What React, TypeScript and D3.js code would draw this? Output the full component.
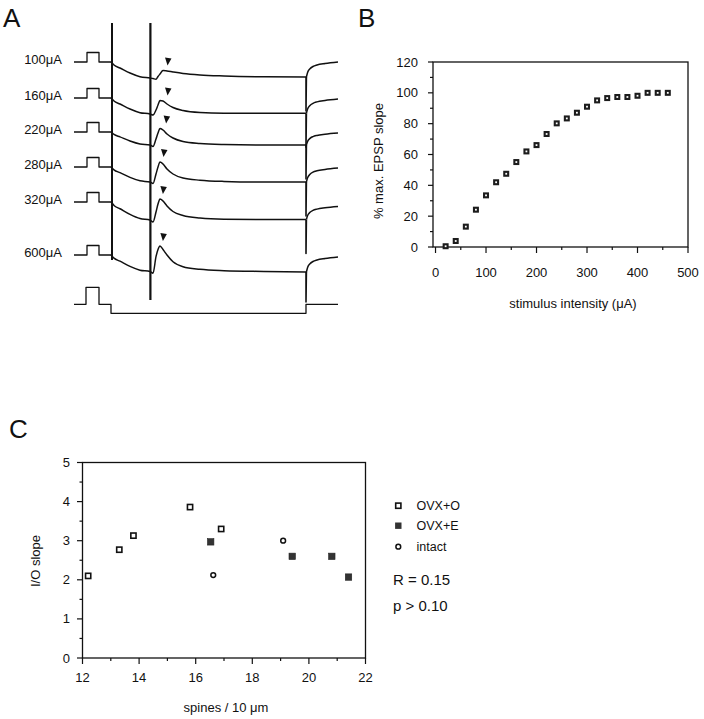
import React from "react";
import * as d3 from "d3";

// ---------- Panel A data (traces) ----------
const stimLabels = ["100μA", "160μA", "220μA", "280μA", "320μA", "600μA"];
const sagMv = [16, 16, 13, 15, 18, 16.5];
const chargeT = [18.5, 19, 20, 23, 28, 33, 38];
const chargeFrac = [0, 0.06, 0.19, 0.375, 0.69, 0.92, 1];
const epspT = [38, 39.5, 41, 42, 43, 44.5, 46.5, 49.5, 54.5, 63, 75, 95, 116];
const epspMv = [
  [0, -0.5, -1.3, 1.5, 4, 7.5, 7, 6, 4.5, 3, 2, 1.2, 1],
  [0, -1, 4, 9, 13.5, 13, 10, 6.5, 3.5, 1.5, 0.8, 0.7, 0.7],
  [0, -1.5, 6, 12, 16.5, 15, 11, 7, 3.5, 1.5, 0.5, 0, 0],
  [0, -1.5, 8, 15, 20, 18, 13, 8, 4, 1.8, 0.6, 0, 0],
  [0, -2, 8, 16, 21, 19, 14, 8.5, 4.5, 2, 0.8, 0.5, 0.5],
  [0, -1.8, 14.8, 22, 25.5, 22, 16.5, 9.8, 4.8, 2.2, 0.8, 0, -0.5],
];
const tailSpikeMv = [34, 34, 34, 34, 34, 30];
const recT = [116, 116.8, 118, 119.5, 121.5, 125.5, 132];
const recFrac = [0, 0.3, 0.55, 0.7, 0.8, 0.9, 1];
const finalMv = [0, -1, -1, -1, -4.5, -2];
const arrowT = [47, 47, 46.3, 45, 44.7, 44.7];
const pulseT = [0, 6.5, 6.5, 12.5, 12.5, 18.5];
const pulseMv = [0, 0, 9.5, 9.5, 0, 0];
const stimT = [0, 6, 6, 12.5, 12.5, 18.5, 18.5, 116, 116, 132];
const stimMv = [0, 0, 17, 17, 0, 0, -9, -9, 0, 0];

// ---------- Panel B data ----------
const intensity = [20, 40, 60, 80, 100, 120, 140, 160, 180, 200, 220, 240, 260, 280, 300, 320, 340, 360, 380, 400, 420, 440, 460];
const epspSlope = [0.5, 3.9, 13.2, 24.2, 33.5, 42, 47.5, 55.1, 62, 66.1, 73.3, 80.2, 83.4, 87.1, 91, 95.1, 96.6, 97.3, 97.3, 98.1, 100, 100, 100];
const bXTicks = [0, 100, 200, 300, 400, 500];
const bYTicks = [0, 20, 40, 60, 80, 100, 120];

// ---------- Panel C data ----------
const ovxOSpines = [12.2, 13.3, 13.8, 15.8, 16.9];
const ovxOSlope = [2.1, 2.77, 3.13, 3.86, 3.3];
const ovxESpines = [16.53, 19.41, 20.81, 21.4];
const ovxESlope = [2.97, 2.6, 2.6, 2.07];
const intactSpines = [16.62, 19.09];
const intactSlope = [2.12, 3.0];
const cXTicks = [12, 14, 16, 18, 20, 22];
const cYTicks = [0, 1, 2, 3, 4, 5];
const legendLabels = ["OVX+O", "OVX+E", "intact"];
const statLines = ["R = 0.15", "p > 0.10"];

const FONT = "'Liberation Sans', Arial, Helvetica, sans-serif";
const INK = "#111";

export default function App() {
  // Panel A scales
  const xA = d3.scaleLinear().domain([0, 132]).range([74, 338]);
  const rowY = [62, 98, 132, 167, 202, 255];
  const lineLin = d3.line<[number, number]>().x((d) => d[0]).y((d) => d[1]);
  const lineSmooth = d3
    .line<[number, number]>()
    .x((d) => d[0])
    .y((d) => d[1])
    .curve(d3.curveMonotoneX);

  const traces = stimLabels.map((lab, i) => {
    const y0 = rowY[i];
    const yv = (v: number) => y0 - v;
    const pulse: [number, number][] = pulseT.map((t, j) => [xA(t), yv(pulseMv[j])]);
    const main: [number, number][] = [];
    chargeT.forEach((t, j) => main.push([xA(t), yv(-sagMv[i] * chargeFrac[j])]));
    epspT.forEach((t, j) => {
      if (j === 0) return;
      main.push([xA(t), yv(-sagMv[i] + epspMv[i][j])]);
    });
    const endV = -sagMv[i] + epspMv[i][epspMv[i].length - 1];
    const spike: [number, number][] = [
      [xA(116), yv(endV)],
      [xA(116), yv(endV - tailSpikeMv[i])],
      [xA(116.2), yv(endV)],
    ];
    const rec: [number, number][] = recT.map((t, j) => [
      xA(t + (j === 0 ? 0.2 : 0)),
      yv(endV + (finalMv[i] - endV) * recFrac[j]),
    ]);
    const peak = Math.max(...epspMv[i]);
    const tipY = yv(-sagMv[i] + peak) - 5;
    const tipX = xA(arrowT[i]);
    return { lab, y0, pulse, main, spike, rec, tipX, tipY };
  });
  const stimBase = 304.3;
  const stimPts: [number, number][] = stimT.map((t, j) => [xA(t), stimBase - stimMv[j]]);

  // Panel B scales
  const xB = d3.scaleLinear().domain([-5, 500]).range([433, 688]);
  const yB = d3.scaleLinear().domain([0, 120]).range([247, 62]);
  const bXMinor = d3.range(50, 500, 100);
  const bYMinor = d3.range(10, 120, 20);

  // Panel C scales
  const xC = d3.scaleLinear().domain([12, 22]).range([82.5, 365.5]);
  const yC = d3.scaleLinear().domain([0, 5]).range([658, 462.5]);
  const cXMinor = d3.range(13, 22, 2);
  const cYMinor = d3.range(0.5, 5, 1);

  return (
    <div style={{ position: "absolute", left: 0, top: 0 }}>
      <svg width={704} height={719} style={{ display: "block", background: "#fff" }} fontFamily={FONT}>
        {/* Panel letters */}
        <text x={3} y={27} fontSize={26} fill={INK}>A</text>
        <text x={358} y={27} fontSize={26} fill={INK}>B</text>
        <text x={9} y={438} fontSize={26} fill={INK}>C</text>

        {/* ---- Panel A ---- */}
        <g fill="none" stroke={INK} strokeLinejoin="round">
          {traces.map((tr, i) => (
            <g key={i}>
              <path d={lineLin(tr.pulse) || ""} strokeWidth={1.3} />
              <path d={lineSmooth(tr.main) || ""} strokeWidth={1.5} />
              <path d={lineLin(tr.spike) || ""} strokeWidth={1.6} />
              <path d={lineSmooth(tr.rec) || ""} strokeWidth={1.5} />
            </g>
          ))}
          <path d={lineLin(stimPts) || ""} strokeWidth={1.3} />
          <line x1={xA(19)} x2={xA(19)} y1={23} y2={260} strokeWidth={2} />
          <line x1={xA(38.2)} x2={xA(38.2)} y1={23} y2={300} strokeWidth={2.2} />
        </g>
        {traces.map((tr, i) => (
          <g key={"l" + i}>
            <text x={62} y={tr.y0 - 3} fontSize={13} textAnchor="end" dominantBaseline="central" fill={INK}>
              {tr.lab}
            </text>
            <path
              d={`M${tr.tipX - 3},${tr.tipY - 8} L${tr.tipX + 3.5},${tr.tipY - 7} L${tr.tipX - 0.5},${tr.tipY} Z`}
              fill={INK}
            />
          </g>
        ))}

        {/* ---- Panel B ---- */}
        <g stroke={INK} fill="none">
          <rect x={433} y={62} width={688 - 433} height={247 - 62} strokeWidth={1.3} />
          {bXTicks.map((v) => (
            <line key={"bx" + v} x1={xB(v)} x2={xB(v)} y1={247} y2={253} strokeWidth={1.2} />
          ))}
          {bXMinor.map((v) => (
            <line key={"bxm" + v} x1={xB(v)} x2={xB(v)} y1={247} y2={250} strokeWidth={1.2} />
          ))}
          {bYTicks.map((v) => (
            <line key={"by" + v} x1={433} x2={428} y1={yB(v)} y2={yB(v)} strokeWidth={1.2} />
          ))}
          {bYMinor.map((v) => (
            <line key={"bym" + v} x1={433} x2={430} y1={yB(v)} y2={yB(v)} strokeWidth={1.2} />
          ))}
        </g>
        {bXTicks.map((v) => (
          <text key={"bxl" + v} x={xB(v)} y={277} fontSize={13} textAnchor="middle" fill={INK}>
            {v}
          </text>
        ))}
        {bYTicks.map((v) => (
          <text key={"byl" + v} x={418} y={yB(v) + 4.5} fontSize={13} textAnchor="end" fill={INK}>
            {v}
          </text>
        ))}
        <text x={573} y={307.5} fontSize={13} textAnchor="middle" fill={INK}>
          stimulus intensity (μA)
        </text>
        <text transform="translate(382.5,161) rotate(-90)" fontSize={13} textAnchor="middle" fill={INK}>
          % max. EPSP slope
        </text>
        {intensity.map((v, i) => (
          <g key={"bp" + i}>
            <rect x={xB(v) - 3} y={yB(epspSlope[i]) - 3} width={6} height={6} fill="#1c1c1c" />
            <rect x={xB(v) - 0.9} y={yB(epspSlope[i]) - 0.9} width={1.8} height={1.8} fill="#fff" />
          </g>
        ))}

        {/* ---- Panel C ---- */}
        <g stroke={INK} fill="none">
          <rect x={82.5} y={462.5} width={365.5 - 82.5} height={658 - 462.5} strokeWidth={1.3} />
          {cXTicks.map((v) => (
            <line key={"cx" + v} x1={xC(v)} x2={xC(v)} y1={658} y2={664} strokeWidth={1.2} />
          ))}
          {cXMinor.map((v) => (
            <line key={"cxm" + v} x1={xC(v)} x2={xC(v)} y1={658} y2={661} strokeWidth={1.2} />
          ))}
          {cYTicks.map((v) => (
            <line key={"cy" + v} x1={82.5} x2={77} y1={yC(v)} y2={yC(v)} strokeWidth={1.2} />
          ))}
          {cYMinor.map((v) => (
            <line key={"cym" + v} x1={82.5} x2={79.5} y1={yC(v)} y2={yC(v)} strokeWidth={1.2} />
          ))}
        </g>
        {cXTicks.map((v) => (
          <text key={"cxl" + v} x={xC(v)} y={681.5} fontSize={13} textAnchor="middle" fill={INK}>
            {v}
          </text>
        ))}
        {cYTicks.map((v) => (
          <text key={"cyl" + v} x={70} y={yC(v) + 4.5} fontSize={13} textAnchor="end" fill={INK}>
            {v}
          </text>
        ))}
        <text x={226} y={711.5} fontSize={13} textAnchor="middle" fill={INK}>
          spines / 10 μm
        </text>
        <text transform="translate(39.5,561) rotate(-90)" fontSize={13} textAnchor="middle" fill={INK}>
          I/O slope
        </text>
        {ovxOSpines.map((v, i) => (
          <rect key={"o" + i} x={xC(v) - 2.6} y={yC(ovxOSlope[i]) - 2.6} width={5.2} height={5.2}
            fill="#fff" stroke={INK} strokeWidth={1.6} />
        ))}
        {ovxESpines.map((v, i) => (
          <rect key={"e" + i} x={xC(v) - 3.2} y={yC(ovxESlope[i]) - 3.2} width={6.4} height={6.4}
            fill="#333" stroke="#222" strokeWidth={0.6} />
        ))}
        {intactSpines.map((v, i) => (
          <circle key={"n" + i} cx={xC(v)} cy={yC(intactSlope[i])} r={2.4}
            fill="#fff" stroke={INK} strokeWidth={1.5} />
        ))}

        {/* Legend */}
        {legendLabels.map((lab, i) => {
          const ly = [505.7, 525.7, 546.7][i];
          return (
            <g key={"lg" + i}>
              {i === 0 && (
                <rect x={398.3 - 2.6} y={ly - 2.6} width={5.2} height={5.2} fill="#fff" stroke={INK} strokeWidth={1.6} />
              )}
              {i === 1 && <rect x={398.3 - 3.2} y={ly - 3.2} width={6.4} height={6.4} fill="#333" />}
              {i === 2 && <circle cx={398.3} cy={ly} r={2.4} fill="#fff" stroke={INK} strokeWidth={1.5} />}
              <text x={416.5} y={ly} fontSize={12.5} dominantBaseline="central" fill={INK}>
                {lab}
              </text>
            </g>
          );
        })}
        {statLines.map((s, i) => (
          <text key={"st" + i} x={393} y={[579, 605][i]} fontSize={15} dominantBaseline="central" fill={INK}>
            {s}
          </text>
        ))}
      </svg>
    </div>
  );
}
